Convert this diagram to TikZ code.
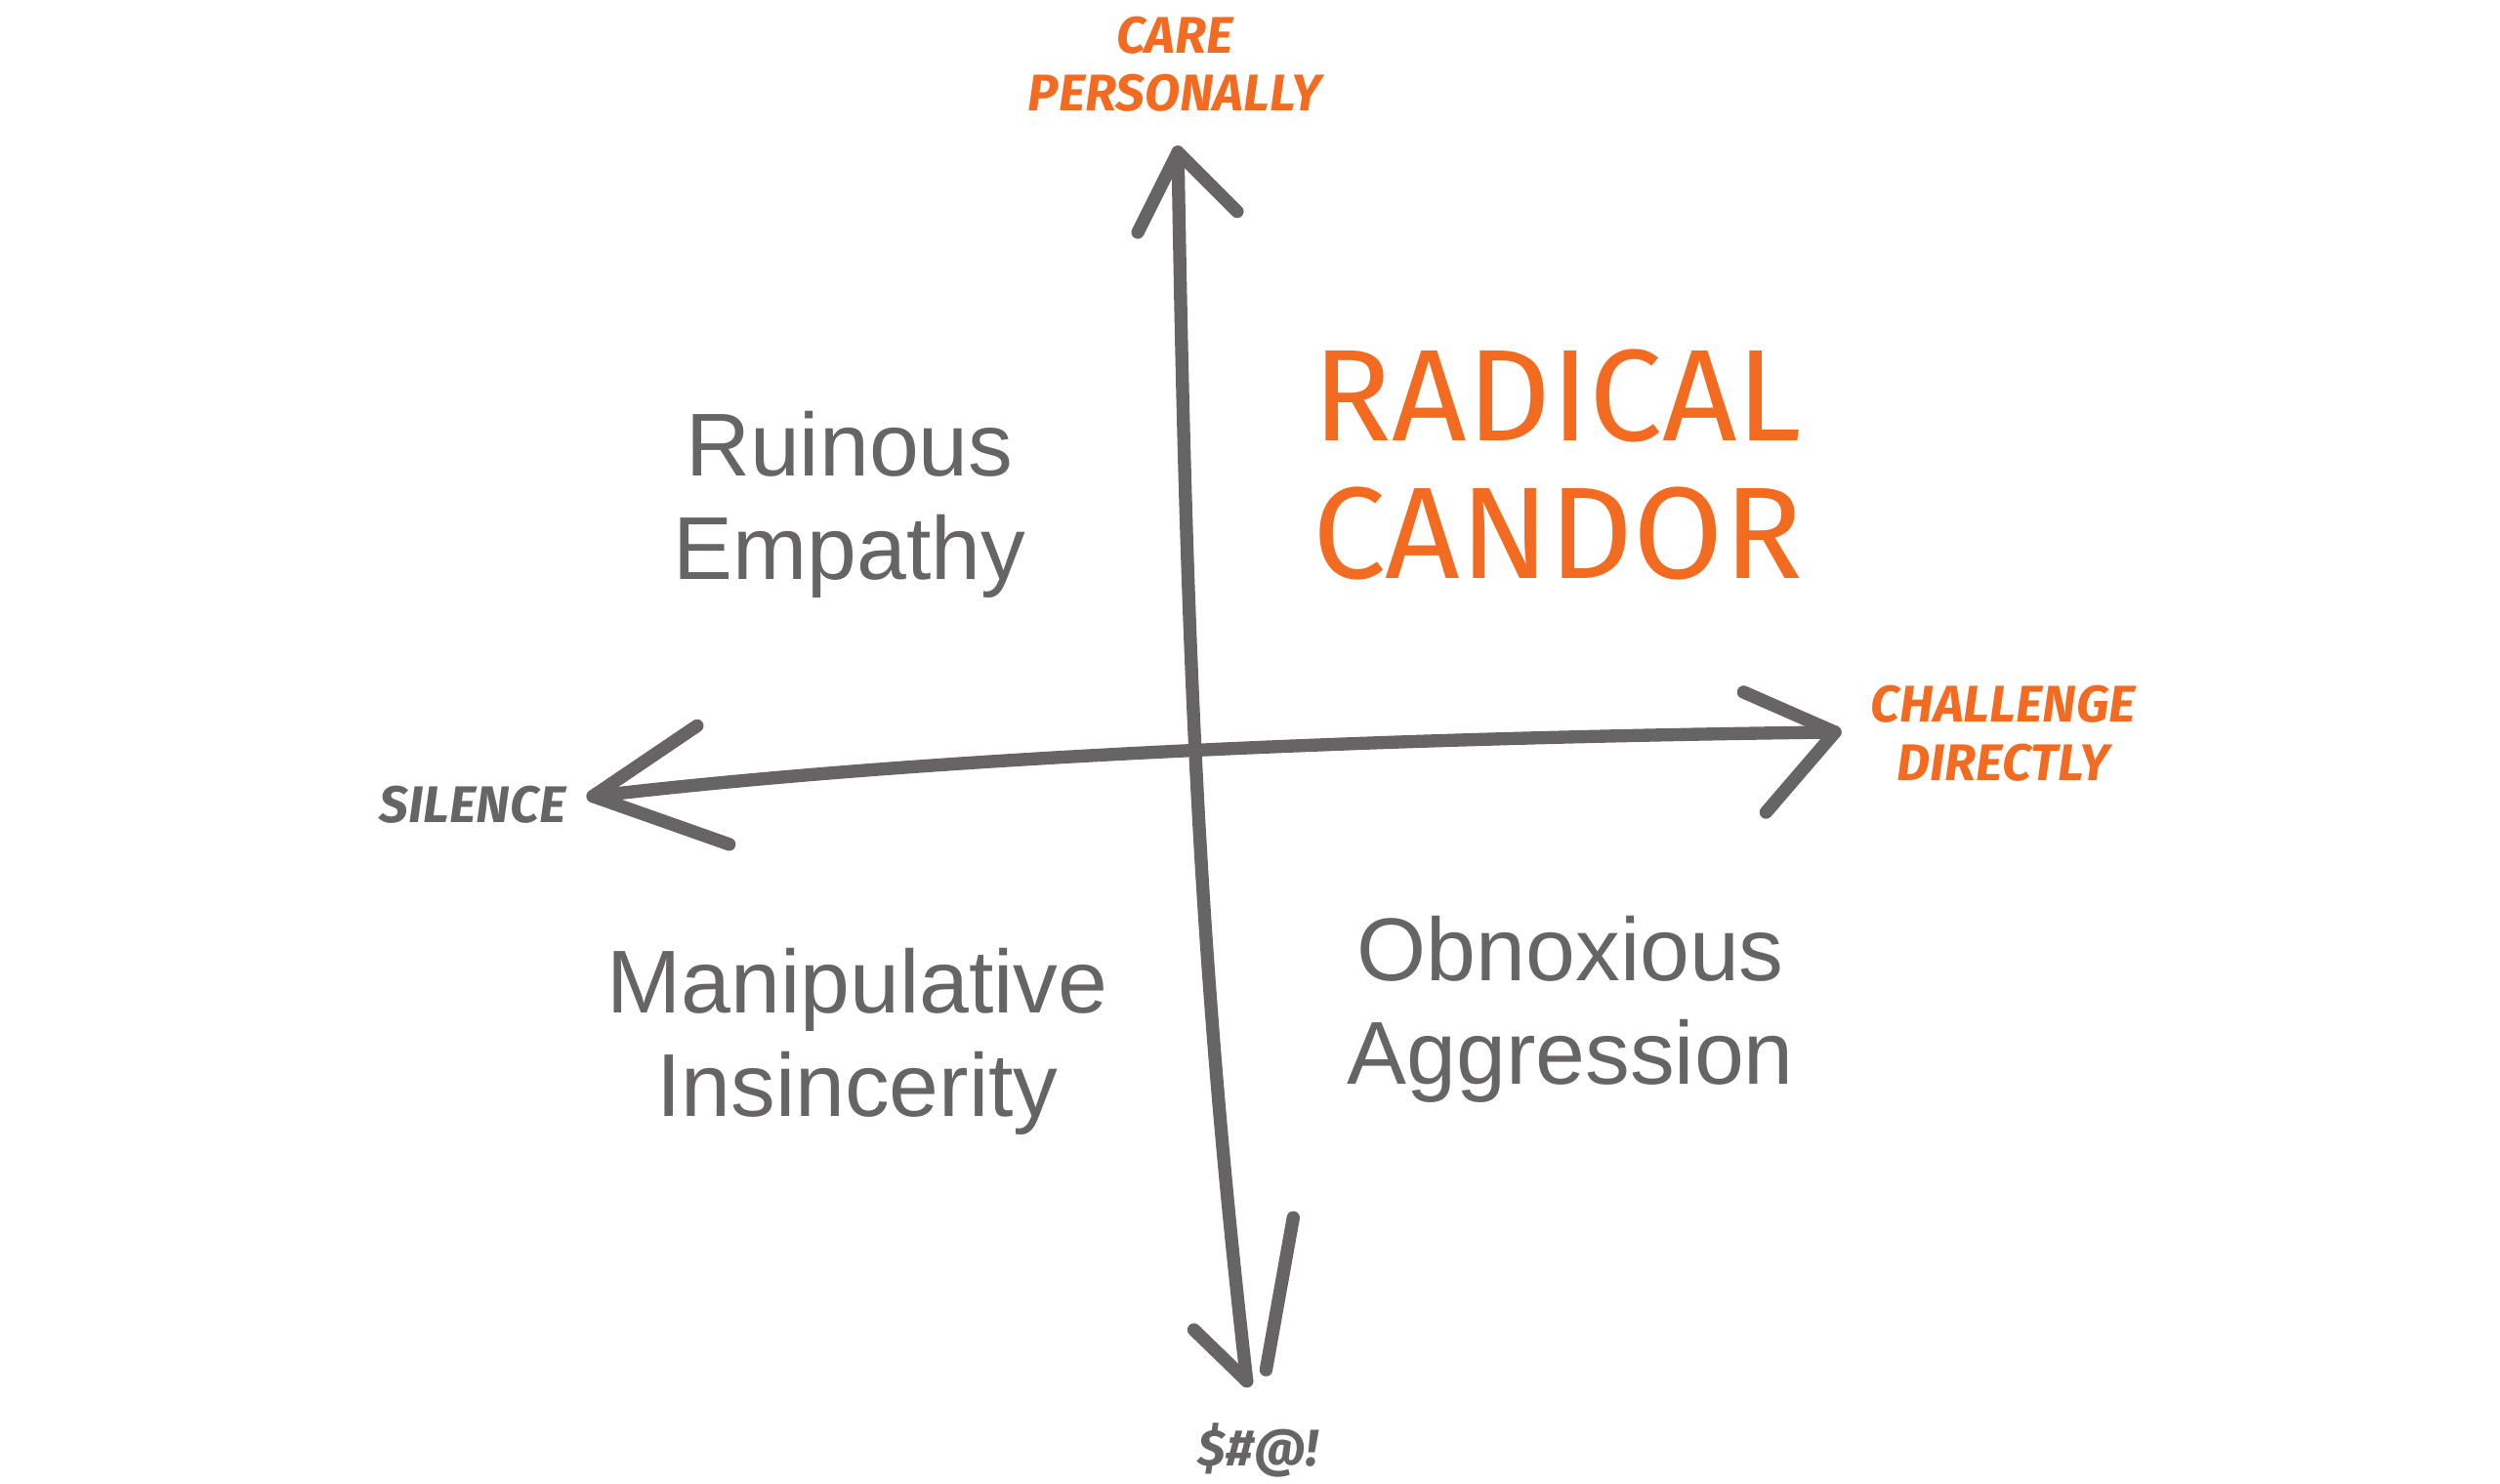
\documentclass[tikz,border=0pt]{standalone}
\usepackage{fontspec}
\setmainfont{Liberation Sans}
\newfontfamily\cond{Fira Sans}
\definecolor{ora}{HTML}{F26B21}
\definecolor{gr}{HTML}{666464}
\begin{document}
\begin{tikzpicture}[x=0.01641cm,y=-0.01641cm,
  ax/.style={draw=gr,line width=3.8pt,line cap=round,line join=round},
  lab/.style={font=\cond\bfseries\itshape\fontsize{15}{17}\selectfont,align=center},
  quad/.style={text=gr,font=\fontsize{26}{30}\selectfont,align=center}]
\useasboundingbox (0,0) rectangle (1560,926);
\coordinate (vt) at (735,95); \coordinate (vb) at (778,862);
\coordinate (hl) at (370,497); \coordinate (hr) at (1145,457);
\draw[ax] (vt) .. controls (740,400) and (748,600) .. (vb);
\draw[ax] (710,145) -- (vt) -- (772,132);
\draw[ax] (745,830) -- (vb);
\draw[ax] (807,760) -- (790,855);
\draw[ax] (hl) .. controls (600,470) and (900,460) .. (hr);
\draw[ax] (435,453) -- (hl) -- (455,527);
\draw[ax] (1088,432) -- (hr) -- (1102,507);
\node[lab,text=ora] (cp) at (733,40) {CARE\\PERSONALLY};
\node[lab,text=gr] (si) at (295,502) {SILENCE};
\node[lab,text=ora] (cd) at (1250,458) {CHALLENGE\\DIRECTLY};
\node[lab,text=gr] (sw) at (785,905) {\$\#@!};
\node[text=ora,font=\cond\fontsize{38}{40}\selectfont,align=center] (rc) at (972,290) {RADICAL\\CANDOR};
\node[quad] (re) at (530,315) {Ruinous\\Empathy};
\node[quad] (mi) at (535,650) {Manipulative\\Insincerity};
\node[quad] (oa) at (980,630) {Obnoxious\\Aggression};
\end{tikzpicture}
\end{document}
